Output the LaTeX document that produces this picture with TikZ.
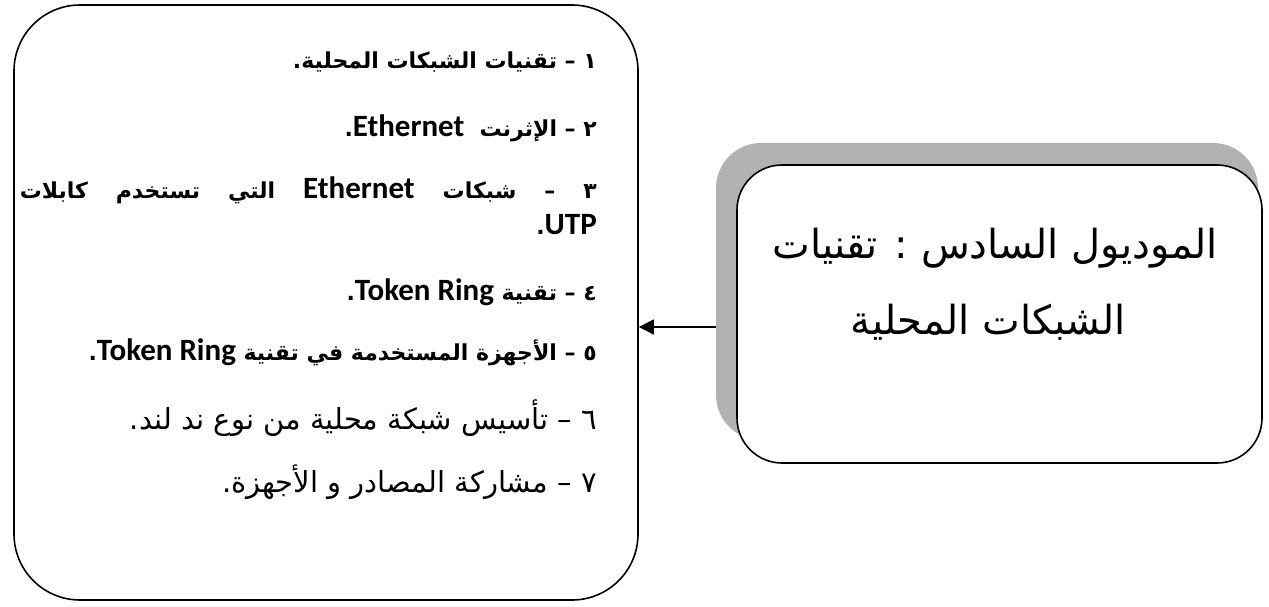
\documentclass[tikz,border=0pt]{standalone}
\usepackage{fontspec}
\setmainfont{DejaVu Sans}
\newfontfamily\arabicfont[Script=Arabic]{DejaVu Sans}
\newfontfamily\latinfont{Carlito}
\TeXXeTstate=1
\usetikzlibrary{arrows.meta}
\newcommand{\lat}[1]{\beginL{\latinfont\bfseries\fontsize{31}{34}\selectfont #1}\endL}

\begin{document}
\begin{tikzpicture}[x=1pt,y=-1pt,
    box/.style={draw,line width=1.6pt,inner sep=0pt},
    item/.style={anchor=east,inner sep=0pt,font=\arabicfont\bfseries\fontsize{22}{26}\selectfont},
    itemw/.style={item,font=\arabicfont\fontsize{29}{34}\selectfont},
    title/.style={inner sep=0pt,font=\arabicfont\fontsize{40}{46}\selectfont},
    arr/.style={-{Triangle[length=15pt,width=15pt]},line width=1.5pt}]
    \useasboundingbox (0,0) rectangle (1269,607);

    % list box
    \node[box,rounded corners=66pt,minimum width=624pt,minimum height=595pt] (lbox) at (326,302.5) {};

    \node[item] (l1) at (597,62) {\beginR ١ – تقنيات الشبكات المحلية.\endR};
    \node[item] (l2) at (597,128) {\beginR ٢ – الإثرنت \ \lat{Ethernet}.\endR};
    \node[item] (l3) at (597,190) {\makebox[577pt][s]{\beginR ٣ – شبكات \lat{Ethernet} التي تستخدم كابلات\endR}};
    \node[item] (l3b) at (597,225) {\beginR\lat{UTP}.\endR};
    \node[item] (l4) at (597,292) {\beginR ٤ – تقنية \lat{Token Ring}.\endR};
    \node[item] (l5) at (597,352) {\beginR ٥ – الأجهزة المستخدمة في تقنية \lat{Token Ring}.\endR};
    \node[itemw] (l6) at (597,418) {\beginR ٦ – تأسيس شبكة محلية من نوع ند لند.\endR};
    \node[itemw] (l7) at (597,482) {\beginR ٧ – مشاركة المصادر و الأجهزة.\endR};

    % module box with shadow
    \node[fill=black!30,rounded corners=45pt,minimum width=542pt,minimum height=297pt,inner sep=0pt] (rshadow) at (987,291.5) {};
    \node[box,fill=white,rounded corners=45pt,minimum width=525pt,minimum height=298pt] (rbox) at (999.5,314) {};

    \node[title] (t1) at (995,248) {\beginR الموديول السادس : تقنيات\endR};
    \node[title] (t2) at (988,322) {\beginR الشبكات المحلية\endR};

    \coordinate (tail) at (rshadow.west |- 0,327);
    \draw[arr] (tail) -- (tail -| lbox.east);

\end{tikzpicture}
\end{document}
